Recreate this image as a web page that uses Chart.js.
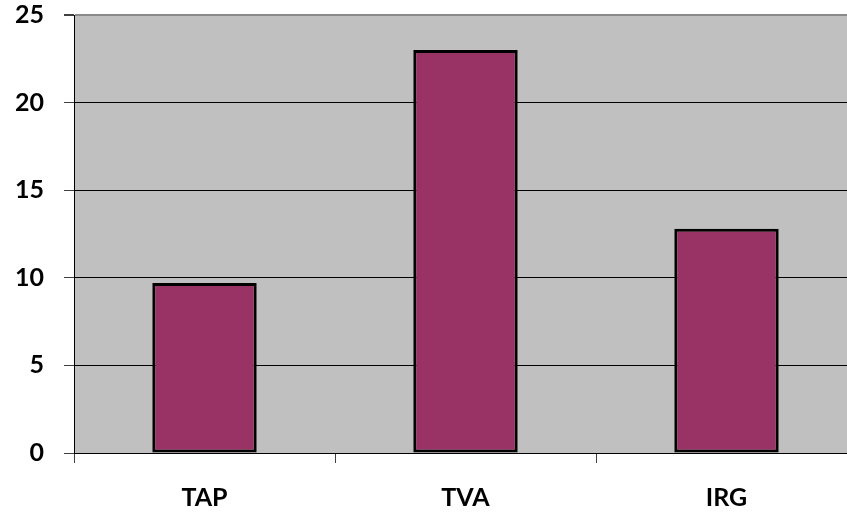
<!DOCTYPE html>
<html>
<head>
<meta charset="utf-8">
<script src="https://cdn.jsdelivr.net/npm/chart.js@4/dist/chart.umd.min.js"></script>
<style>
  html, body { margin: 0; padding: 0; background: #fff; overflow: hidden; }
  #wrap { width: 860px; height: 512px; }
</style>
</head>
<body>
<div id="wrap"><canvas id="c" width="860" height="512"></canvas></div>
<script>
const categories = ['TAP', 'TVA', 'IRG'];
const values = [9.7, 23, 12.8];
const yTicks = [0, 5, 10, 15, 20, 25];

// Grey plot background behind the bars
const plotBackground = {
  id: 'plotBackground',
  beforeDraw(chart) {
    const { ctx, chartArea: a } = chart;
    ctx.save();
    ctx.fillStyle = '#C0C0C0';
    ctx.fillRect(a.left, a.top, a.right - a.left, a.bottom - a.top);
    ctx.restore();
  }
};

const font = { family: 'Lato', weight: 'bold', size: 25 };

new Chart(document.getElementById('c'), {
  type: 'bar',
  data: {
    labels: categories,
    datasets: [{
      data: values,
      backgroundColor: '#993366',
      borderColor: '#000000',
      borderWidth: 3,
      borderSkipped: false,
      barPercentage: 0.4,
      categoryPercentage: 1.0
    }]
  },
  options: {
    responsive: false,
    animation: false,
    layout: { padding: { top: 15, right: 3, bottom: 0, left: 0 } },
    plugins: { legend: { display: false }, tooltip: { enabled: false } },
    scales: {
      x: {
        offset: true,
        grid: {
          offset: true,
          drawOnChartArea: false,
          drawTicks: true,
          tickLength: 10,
          color: '#404040'
        },
        border: { color: '#000000', width: 1 },
        ticks: { color: '#000', font: font, padding: 20 },
        afterFit(scale) {
          scale.height = 59;
          scale.paddingLeft = 0; scale.paddingRight = 0;
        }
      },
      y: {
        min: 0,
        max: 25,
        afterBuildTicks(scale) { scale.ticks = yTicks.map(v => ({ value: v })); },
        grid: {
          color: ctx => ctx.tick && ctx.tick.value === 25 ? '#8a8a8a' : '#000000',
          lineWidth: ctx => ctx.tick && ctx.tick.value === 25 ? 2 : 1,
          tickLength: 10,
          tickColor: '#404040'
        },
        border: { color: '#000000', width: 1 },
        ticks: { color: '#000', font: font, padding: 20 },
        afterFit(scale) {
          scale.width = 74;
          scale.paddingTop = 0; scale.paddingBottom = 0;
        }
      }
    }
  },
  plugins: [plotBackground]
});
</script>
</body>
</html>
